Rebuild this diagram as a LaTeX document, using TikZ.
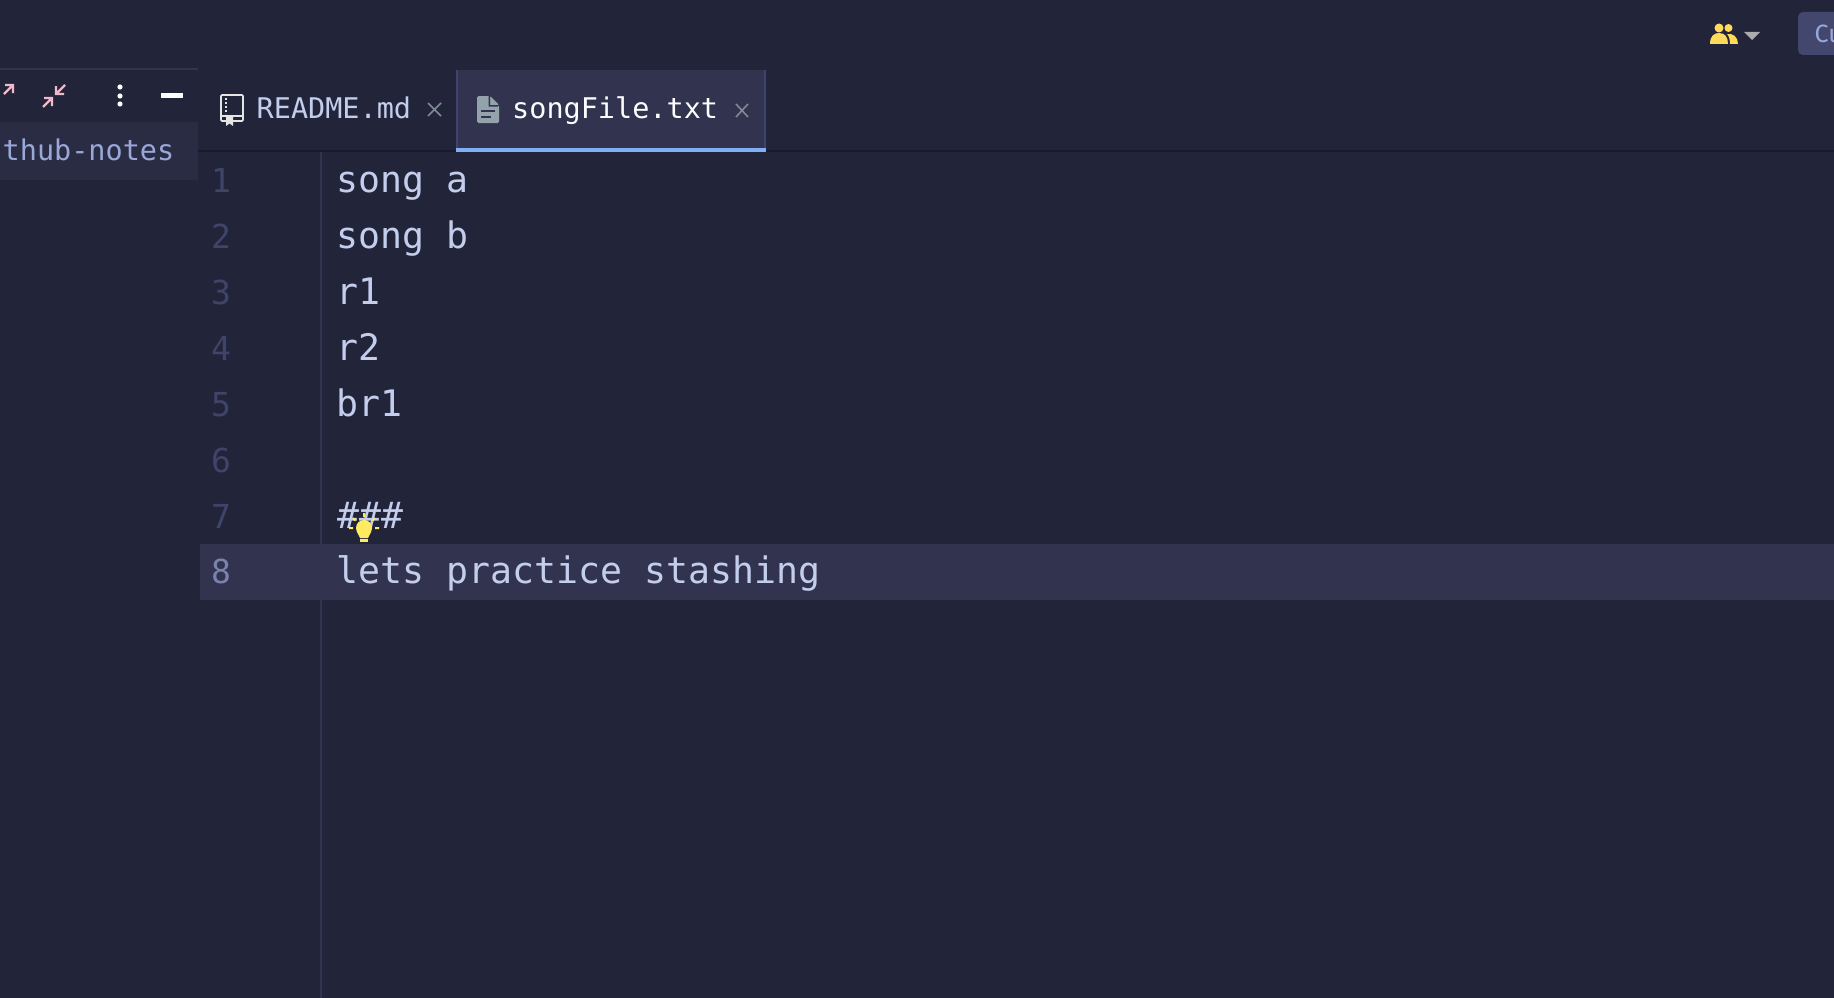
\documentclass[tikz,border=0pt]{standalone}
\usepackage{fontspec}
\setmonofont{DejaVu Sans Mono}
\newfontfamily\btnfont{Fira Sans}
\usepackage{tikz}
\usetikzlibrary{positioning,arrows.meta,calc}
\definecolor{cBack}{HTML}{22243A}
\definecolor{cRow}{HTML}{2A2C44}
\definecolor{cLine}{HTML}{32344F}
\definecolor{cEdge}{HTML}{3D4470}
\definecolor{cBlue}{HTML}{7FB0F5}
\definecolor{cText}{HTML}{C3CDEC}
\definecolor{cSide}{HTML}{9AA8D8}
\definecolor{cNum}{HTML}{3F4569}
\definecolor{cNumOn}{HTML}{7A82AD}
\definecolor{cShut}{HTML}{7F8B94}
\definecolor{cDoc}{HTML}{94A3AB}
\definecolor{cPink}{HTML}{EFB9C9}
\definecolor{cGold}{HTML}{FFD95A}
\definecolor{cBulb}{HTML}{FFEA60}
\definecolor{cBtn}{HTML}{43476E}
\tikzset{
  codeln/.style={anchor=base west, inner sep=0pt, text=cText,
                 font=\fontsize{36.5}{40}\selectfont\ttfamily},
  numln/.style={anchor=base west, inner sep=0pt, text=cNum,
                font=\fontsize{33}{40}\selectfont\ttfamily},
  tablbl/.style={anchor=base west, inner sep=0pt, text=cText,
                 font=\fontsize{28.5}{34}\selectfont\ttfamily},
  shut/.style={cShut, line width=1.6pt},
  pinkar/.style={cPink, line width=2.4pt},
}
\begin{document}
\begin{tikzpicture}[x=1pt,y=-1pt]
  \useasboundingbox (0,0) rectangle (1834,998);
  \fill[cBack] (0,0) rectangle (1834,998);
  % left panel
  \fill[cLine] (0,68) rectangle (198,70);
  \fill[cRow] (0,122) rectangle (198,180);
  \node[tablbl, text=cSide] (proj) at (2.5,160) {thub-notes};
  \draw[pinkar] (4,94) -- (13,85) (5,85) -- (13,85) -- (13,93);
  \draw[pinkar] (43,107) -- (52,98) (44,98) -- (52,98) -- (52,106);
  \draw[pinkar] (65,85) -- (56,94) (56,86) -- (56,94) -- (64,94);
  \foreach \dy in {87,96,104}
    \fill[white] (120,\dy) circle (2.6);
  \fill[white] (161,93) rectangle (183,98);
  % tabs
  \fill[black!25!cBack] (198,150) rectangle (1834,152);
  \fill[cLine] (456,70) rectangle (766,152);
  \fill[cEdge] (456,70) rectangle (458,152);
  \fill[cEdge] (764,70) rectangle (766,152);
  \fill[cBlue] (456,148) rectangle (766,152);
  % book icon
  \draw[white!90!black, line width=1.6pt, rounded corners=1pt] (221,95) rectangle (243,121);
  \draw[white!90!black, line width=1.6pt] (221,116) -- (243,116);
  \draw[white!90!black, line width=1.4pt, dash pattern=on 2pt off 2pt] (226,98) -- (226,114);
  \fill[white!90!black] (226,117) -- (233,117) -- (233,126) -- (229.5,123.5) -- (226,126) -- cycle;
  \node[tablbl] (readme) at (256.5,118.5) {README.md};
  \draw[shut] (428,103) -- (441,116) (441,103) -- (428,116);
  % doc icon
  \fill[cDoc, rounded corners=1.5pt] (477,96) -- (490,96) -- (499,105) -- (499,123) -- (477,123) -- cycle;
  \fill[cLine] (490,96) -- (490,105) -- (499,105) -- (498,106.5) -- (488.5,106.5) -- (488.5,96) -- cycle;
  \fill[cLine] (481,110) rectangle (495,112);
  \fill[cLine] (481,116) rectangle (491,118);
  \node[tablbl, text=white!95!cText] (song) at (512,118.5) {songFile.txt};
  \draw[shut] (736,104) -- (748,117) (748,104) -- (736,117);
  % editor
  \coordinate (guttop) at (320.8,152);
  \coordinate (gutbot) at (320.8,998);
  \draw[cLine, line width=1.4pt] (guttop) -- (gutbot);
  \fill[cLine] (200,544) rectangle (1834,600);
  \foreach \n/\yy in {1/192,2/248,3/304,4/360,5/416,6/472,7/528}
    \node[numln] (num\n) at (211,\yy) {\n};
  \node[numln, text=cNumOn] (num8) at (211,583.5) {8};
  \node[codeln] (songa) at (336.5,192) {song a};
  \node[codeln] (songb) at (336.5,248) {song b};
  \node[codeln] (rone) at (336.5,304) {r1};
  \node[codeln] (rtwo) at (336.5,360) {r2};
  \node[codeln] (brone) at (336.5,416) {br1};
  \node[codeln] (hashes) at (337,528) {\#\#\#};
  \node[codeln] (stash) at (336.5,583.5) {lets practice stashing};
  % bulb
  \fill[cBulb] (364,528) circle (8);
  \fill[cBulb] (357,532) -- (371,532) -- (368,538) -- (360,538) -- cycle;
  \fill[cBulb] (360,539) rectangle (368,542);
  \draw[cBulb, line width=2pt]
    (364,513) -- (364,517) (353,518) -- (355.5,520.5) (375,518) -- (372.5,520.5)
    (349,528) -- (353,528) (375,528) -- (379,528);
  % top right
  \fill[cGold] (1719,28) circle (4.5);
  \fill[cGold] (1728.5,28) circle (4);
  \fill[cGold] (1710,44) .. controls (1710,36) and (1714,33) .. (1719,33) .. controls (1725,33) and (1728,37) .. (1728,44) -- cycle;
  \fill[cGold] (1730,44) .. controls (1730,40) and (1729,36) .. (1727,34) .. controls (1733,33) and (1738,37) .. (1738,44) -- cycle;
  \fill[black!33] (1744,32) -- (1760,32) -- (1752,40) -- cycle;
  \fill[cBtn, rounded corners=5pt] (1798,12) rectangle (1850,55);
  \node[anchor=base west, inner sep=0pt, text=cSide!90!cBlue, font=\fontsize{25}{30}\selectfont\btnfont] (cubtn) at (1814.5,43) {Cu};
\end{tikzpicture}
\end{document}
